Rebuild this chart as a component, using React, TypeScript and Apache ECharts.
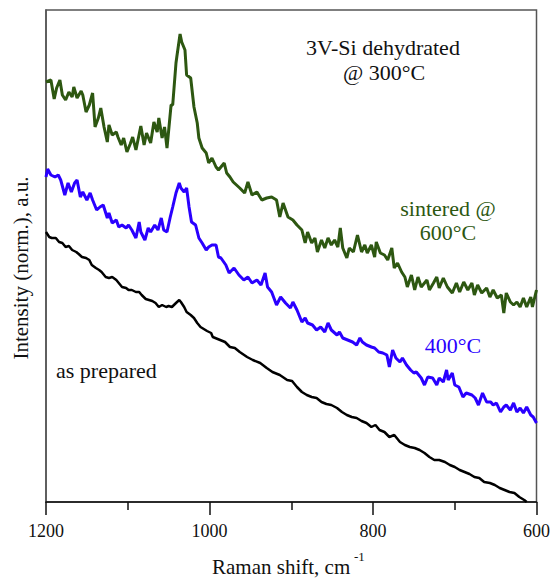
import React, { useEffect, useRef } from "react";
import * as echarts from "echarts";

// Raman shift (cm-1) and normalized intensity (a.u.)
const sinteredShift = [1200,1194,1190,1187,1183,1180,1176,1172,1168,1166,1162,1157,1155,1151,1147,1143,1140,1136,1133,1129,1125,1123,1119,1114,1112,1108,1105,1101,1097,1094,1090,1084,1080,1077,1072,1068,1064,1062,1058,1055,1052,1047,1045,1041,1040,1036,1034,1030,1028,1023,1019,1015,1013,1009,1004,1001,997,992,989,982,979,975,971,963,957,953,948,942,936,930,924,918,914,910,904,898,893,887,883,880,875,871,868,863,859,855,851,847,843,840,837,832,829,824,819,814,810,807,802,798,796,791,786,782,777,774,770,765,761,758,753,749,745,741,734,731,726,722,719,714,709,703,698,694,689,684,679,676,672,667,661,657,653,648,643,640,637,632,628,624,620,616,612,607,605,600];
const sinteredIntensity = [420,422,403,414,422,407,402,410,405,415,404,411,407,390,397,409,375,384,394,375,360,377,367,370,365,357,364,350,358,365,352,376,357,369,359,380,370,384,364,375,354,397,397,439,445,468,460,452,427,424,395,379,364,354,349,339,344,335,332,339,329,325,320,314,309,320,307,310,302,304,305,302,285,299,285,282,277,272,259,270,259,264,250,262,254,264,257,262,255,274,254,244,254,250,267,250,257,249,257,245,260,249,247,242,254,234,239,230,225,215,227,212,225,215,222,212,219,225,214,224,215,209,219,210,220,212,219,207,217,209,214,205,212,204,207,189,209,200,197,200,195,204,195,205,195,212];

const c400Shift = [1200,1198,1194,1189,1185,1182,1177,1173,1169,1165,1162,1158,1155,1150,1146,1143,1138,1134,1130,1125,1123,1119,1114,1111,1107,1102,1099,1095,1090,1086,1084,1079,1075,1072,1067,1063,1059,1056,1052,1048,1045,1041,1037,1035,1031,1028,1025,1022,1017,1013,1009,1004,1001,997,992,989,986,980,976,970,964,958,953,948,942,937,932,929,924,918,913,907,901,898,893,887,883,880,874,869,864,859,855,851,844,841,837,831,825,820,816,813,808,802,798,793,788,783,780,776,772,767,764,759,754,750,747,741,737,733,727,722,719,714,710,708,703,700,695,690,686,679,675,671,666,661,656,653,649,644,640,637,632,628,624,620,616,612,607,604,600];
const c400Intensity = [325,333,327,325,327,322,307,319,310,319,322,305,310,302,309,302,292,295,297,284,289,279,282,275,277,274,277,272,264,280,270,262,274,270,277,272,284,272,270,285,295,309,319,314,310,314,295,280,277,264,259,252,255,257,257,245,244,237,229,234,227,222,225,219,222,217,229,215,210,197,205,199,194,200,192,180,184,179,177,172,175,170,179,172,167,170,164,162,160,157,164,160,157,155,154,150,149,147,135,152,144,140,144,137,132,129,130,124,117,125,124,117,124,120,132,122,129,117,115,105,109,107,104,97,109,100,100,97,99,90,95,97,92,99,90,94,89,95,87,85,79];

const preparedShift = [1200,1196,1193,1188,1184,1180,1176,1172,1168,1163,1160,1156,1151,1147,1144,1139,1135,1132,1127,1123,1119,1114,1111,1107,1102,1099,1095,1090,1086,1083,1078,1074,1070,1066,1062,1058,1053,1050,1046,1041,1037,1035,1031,1028,1023,1019,1015,1011,1007,1003,998,996,987,981,975,969,963,954,947,938,930,923,914,905,899,893,887,881,875,869,863,857,851,844,838,832,826,820,814,808,802,797,792,786,780,774,767,761,755,749,743,737,731,725,719,712,706,700,694,688,682,676,670,664,657,651,645,639,633,627,621,615,612];
const preparedIntensity = [270,265,264,264,260,259,255,256,252,250,248,245,244,242,237,234,232,230,225,224,225,222,219,215,214,212,212,210,210,207,203,202,201,199,195,197,195,196,195,199,202,200,195,190,187,184,179,175,173,171,169,165,162,160,155,154,150,145,142,139,134,130,127,122,121,115,110,107,105,104,100,98,97,94,90,87,85,84,81,79,75,77,72,70,65,67,60,57,55,54,52,49,45,42,42,40,37,35,32,30,28,25,24,20,19,17,14,12,10,9,5,2,0];

const xTicks = [600, 800, 1000, 1200];

const FONT = "Liberation Serif";
const GREEN = "#2d5711";
const BLUE = "#2a00ff";

const zip = (xs: number[], ys: number[]) => xs.map((x, i) => [x, ys[i]]);

export default function App() {
  const ref = useRef<HTMLDivElement>(null);
  useEffect(() => {
    if (!ref.current) return;
    const chart = echarts.init(ref.current, null, { renderer: "svg" });
    chart.setOption({
      animation: false,
      backgroundColor: "#ffffff",
      grid: {
        left: 46,
        right: 16,
        top: 10,
        bottom: 77,
        show: true,
        borderColor: "#555",
        borderWidth: 1.5,
        backgroundColor: "transparent",
      },
      xAxis: {
        type: "value",
        min: xTicks[0],
        max: xTicks[xTicks.length - 1],
        interval: 200,
        inverse: true,
        axisLine: { show: true, lineStyle: { color: "#111", width: 1.5 } },
        axisTick: { show: true, inside: false, length: 13, lineStyle: { color: "#111", width: 1.5 } },
        minorTick: { show: true, splitNumber: 2, length: 8, lineStyle: { color: "#111", width: 1.5 } },
        axisLabel: {
          fontFamily: FONT,
          fontSize: 18,
          color: "#111",
          margin: 20,
          formatter: (v: number) => String(v),
        },
        splitLine: { show: false },
        minorSplitLine: { show: false },
      },
      yAxis: {
        type: "value",
        min: 0,
        max: 492,
        axisLine: { show: true, lineStyle: { color: "#555", width: 1.5 } },
        axisTick: { show: false },
        axisLabel: { show: false },
        splitLine: { show: false },
      },
      series: [
        {
          name: "sintered @ 600°C",
          type: "line",
          data: zip(sinteredShift, sinteredIntensity),
          showSymbol: false,
          lineStyle: { color: GREEN, width: 3 },
        },
        {
          name: "400°C",
          type: "line",
          data: zip(c400Shift, c400Intensity),
          showSymbol: false,
          lineStyle: { color: BLUE, width: 3 },
        },
        {
          name: "as prepared",
          type: "line",
          data: zip(preparedShift, preparedIntensity),
          showSymbol: false,
          lineStyle: { color: "#000", width: 2.5 },
        },
      ],
      graphic: [
        { type: "text", x: 383, y: 47, style: { text: "3V-Si dehydrated", fontFamily: FONT, fontSize: 22, fill: "#111", align: "center", verticalAlign: "middle" } },
        { type: "text", x: 384, y: 72, style: { text: "@ 300°C", fontFamily: FONT, fontSize: 22, fill: "#111", align: "center", verticalAlign: "middle" } },
        { type: "text", x: 448, y: 208, style: { text: "sintered @", fontFamily: FONT, fontSize: 22, fill: GREEN, align: "center", verticalAlign: "middle" } },
        { type: "text", x: 448, y: 232, style: { text: "600°C", fontFamily: FONT, fontSize: 22, fill: GREEN, align: "center", verticalAlign: "middle" } },
        { type: "text", x: 453, y: 345, style: { text: "400°C", fontFamily: FONT, fontSize: 22, fill: BLUE, align: "center", verticalAlign: "middle" } },
        { type: "text", x: 56, y: 370, style: { text: "as prepared", fontFamily: FONT, fontSize: 22, fill: "#111", align: "left", verticalAlign: "middle" } },
        { type: "text", x: 212, y: 567, style: { text: "Raman shift, cm", fontFamily: FONT, fontSize: 21, fill: "#111", align: "left", verticalAlign: "middle" } },
        { type: "text", x: 354, y: 556, style: { text: "-1", fontFamily: FONT, fontSize: 13, fill: "#111", align: "left", verticalAlign: "middle" } },
        { type: "text", x: 21, y: 268, rotation: Math.PI / 2, style: { text: "Intensity (norm.), a.u.", fontFamily: FONT, fontSize: 21, fill: "#111", align: "center", verticalAlign: "middle" } },
      ],
    });
    return () => chart.dispose();
  }, []);
  return <div ref={ref} style={{ position: "fixed", left: 0, top: 0, width: 553, height: 579 }} />;
}
